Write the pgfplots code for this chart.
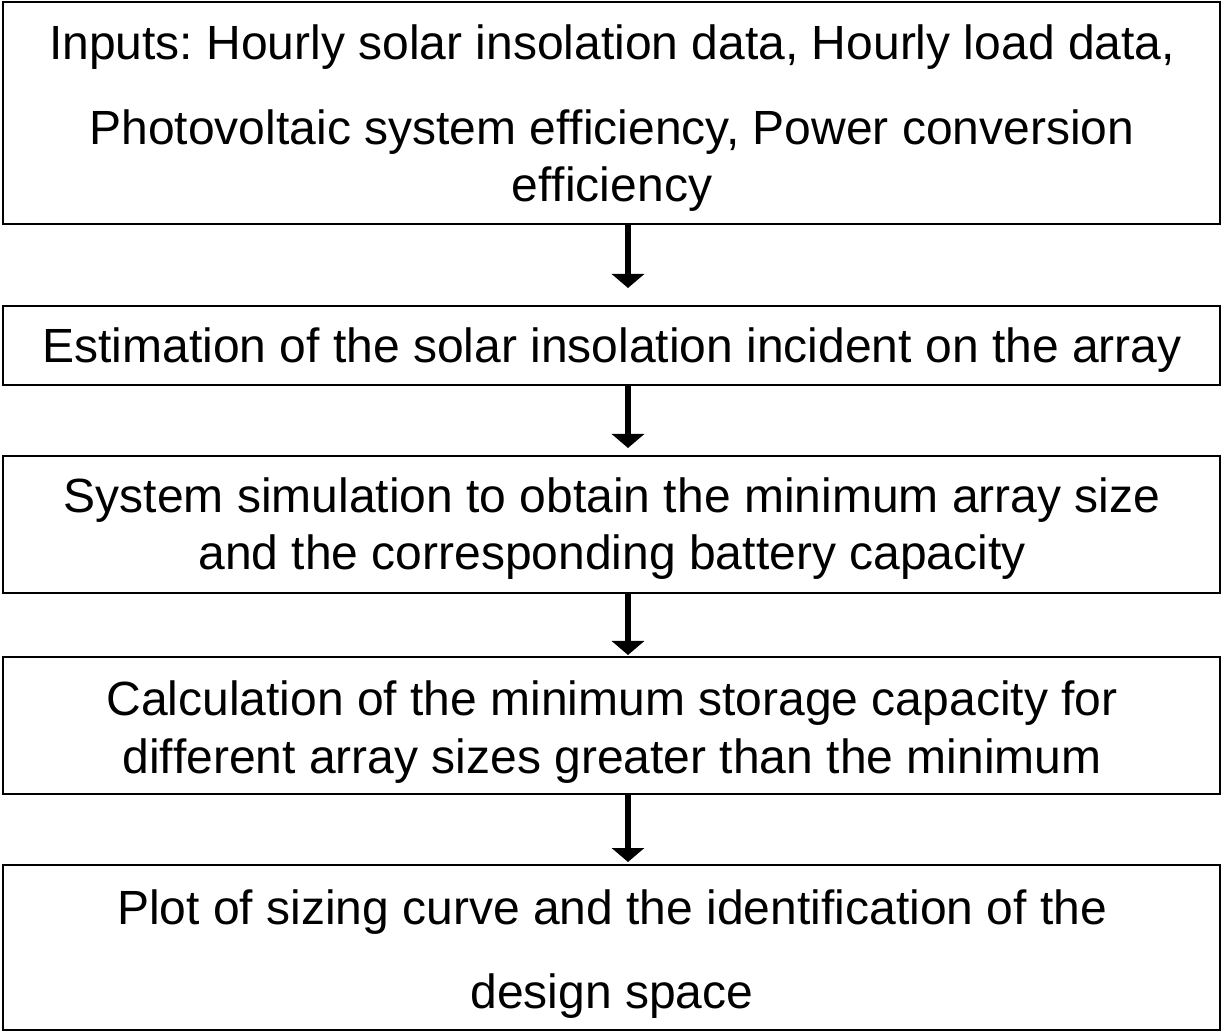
\documentclass[border=0pt]{standalone}
\usepackage{pgfplots}
\pgfplotsset{compat=1.18}
\usepackage{fontspec}
\setmainfont{Liberation Sans}[Ligatures=NoCommon, RawFeature=-liga]
\usetikzlibrary{arrows.meta}
\frenchspacing
\newcommand{\lffi}{f\kern0pt f\kern0pt i}
\newcommand{\lff}{f\kern0pt f}
\newcommand{\lfi}{f\kern0pt i}
\begin{document}
\begin{tikzpicture}
\begin{axis}[
  width=611pt, height=516pt, scale only axis,
  xmin=0, xmax=1222, ymin=0, ymax=1032, y dir=reverse,
  hide axis, clip=false,
]
\coordinate (SW) at (axis cs:0,1032);
\coordinate (NE) at (axis cs:1222,0);
% boxes
\draw[line width=1.2pt] (axis cs:3,2) rectangle (axis cs:1220,224);
\draw[line width=1.2pt] (axis cs:3,306) rectangle (axis cs:1220,385);
\draw[line width=1.2pt] (axis cs:3,456) rectangle (axis cs:1220,593);
\draw[line width=1.2pt] (axis cs:3,657) rectangle (axis cs:1220,794);
\draw[line width=1.2pt] (axis cs:3,865) rectangle (axis cs:1220,1030);
% arrows
\tikzset{flow/.style={line width=2.6pt, -{Triangle[width=16pt,length=7pt]}}}
\draw[flow] (axis cs:628,224) -- (axis cs:628,288);
\draw[flow] (axis cs:628,385) -- (axis cs:628,448);
\draw[flow] (axis cs:628,593) -- (axis cs:628,655);
\draw[flow] (axis cs:628,794) -- (axis cs:628,862);
% text
\tikzset{lbl/.style={anchor=base, inner sep=0pt, font=\fontsize{24}{28}\selectfont}}
\node[lbl] at (axis cs:612,60) {Inputs: Hourly solar insolation data, Hourly load data,};
\node[lbl] at (axis cs:612,145) {Photovoltaic system e\lffi ciency, Power conversion};
\node[lbl] at (axis cs:612,202) {e\lffi ciency};
\node[lbl] at (axis cs:612,363) {Estimation of the solar insolation incident on the array};
\node[lbl] at (axis cs:612,513) {System simulation to obtain the minimum array size};
\node[lbl] at (axis cs:612,570) {and the corresponding battery capacity};
\node[lbl] at (axis cs:612,716) {Calculation of the minimum storage capacity for};
\node[lbl] at (axis cs:612,773) {di\lff erent array sizes greater than the minimum};
\node[lbl] at (axis cs:612,924) {Plot of sizing curve and the identi\lfi cation of the};
\node[lbl] at (axis cs:612,1008) {design space};
\end{axis}
\pgfresetboundingbox
\path[use as bounding box] (SW) rectangle (NE);
\end{tikzpicture}
\end{document}
